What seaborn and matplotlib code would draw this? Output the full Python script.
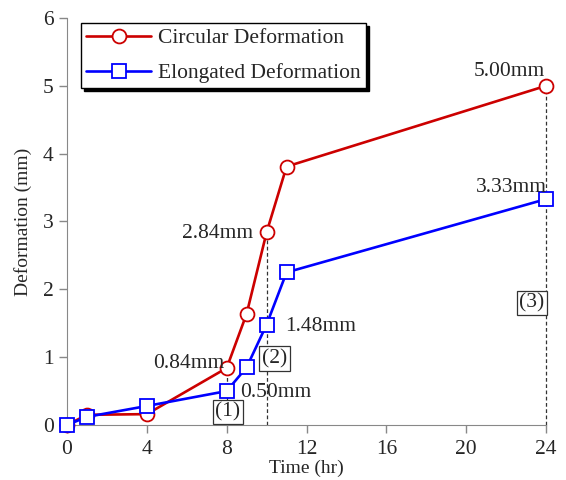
import matplotlib
matplotlib.use("Agg")
import matplotlib.pyplot as plt
from matplotlib.lines import Line2D
import seaborn as sns
import pandas as pd

time_hr = [0, 1, 4, 8, 9, 10, 11, 24]
circular = [0.0, 0.15, 0.16, 0.84, 1.64, 2.84, 3.81, 5.00]
elongated = [0.0, 0.12, 0.28, 0.50, 0.85, 1.48, 2.25, 3.33]
x_ticks = [0, 4, 8, 12, 16, 20, 24]
y_ticks = [0, 1, 2, 3, 4, 5, 6]
series = ["Circular Deformation", "Elongated Deformation"]
colors = {"Circular Deformation": "#cc0000", "Elongated Deformation": "#0000ff"}
markers = {"Circular Deformation": "o", "Elongated Deformation": "s"}

sns.set_style("ticks")
plt.rcParams['font.family'] = ['Liberation Serif', 'DejaVu Serif']

df = pd.DataFrame({"t": time_hr * 2,
                   "d": circular + elongated,
                   "s": [series[0]] * len(time_hr) + [series[1]] * len(time_hr)})

fig = plt.figure(figsize=(5.66, 4.8), dpi=100)
ax = fig.add_axes([0.1184, 0.1146, 0.8463, 0.8479])

sns.lineplot(data=df, x="t", y="d", hue="s", style="s",
             palette=colors, markers=markers,
             dashes=False, markersize=10, markerfacecolor="white", markeredgewidth=1.3,
             linewidth=1.9, ax=ax, clip_on=False, zorder=3, legend=False)
for ln, s in zip(ax.lines, series):
    ln.set_markeredgecolor(colors[s])
    ln.set_markerfacecolor("white")

# dashed guide lines
for xi, yi in [(8, circular[3]), (10, circular[5]), (24, circular[7])]:
    ax.plot([xi, xi], [0, yi], ls=(0, (3, 2)), color="#333333", lw=0.9, zorder=1, clip_on=False)

fs = 15.5
ax.text(7.9, 0.90, "0.84mm", fontsize=fs, ha="right", va="center")
ax.text(8.65, 0.48, "0.50mm", fontsize=fs, ha="left", va="center")
ax.text(9.3, 2.83, "2.84mm", fontsize=fs, ha="right", va="center")
ax.text(10.95, 1.45, "1.48mm", fontsize=fs, ha="left", va="center")
ax.text(23.95, 5.21, "5.00mm", fontsize=fs, ha="right", va="center")
ax.text(24.05, 3.50, "3.33mm", fontsize=fs, ha="right", va="center")

box = dict(boxstyle="square,pad=0.12", fc="white", ec="#333333", lw=0.9)
ax.text(8.05, 0.19, "(1)", fontsize=fs, ha="center", va="center", bbox=box, zorder=4)
ax.text(10.4, 0.98, "(2)", fontsize=fs, ha="center", va="center", bbox=box, zorder=4)
ax.text(23.3, 1.80, "(3)", fontsize=fs, ha="center", va="center", bbox=box, zorder=4)

ax.set_xlim(0, 24)
ax.set_ylim(0, 6)
ax.set_xticks(x_ticks)
ax.set_yticks(y_ticks)
ax.tick_params(axis="both", labelsize=15.5, color="#888888", length=6, width=1)
ax.tick_params(axis="x", pad=5)
ax.set_xlabel("Time (hr)", fontsize=14, labelpad=0)
ax.set_ylabel("Deformation (mm)", fontsize=14, labelpad=8)
for sp in ["top", "right"]:
    ax.spines[sp].set_visible(False)
for sp in ["left", "bottom"]:
    ax.spines[sp].set_color("#888888")

handles = [Line2D([], [], color=colors[s], marker=markers[s], markersize=10,
                  markerfacecolor="white", markeredgecolor=colors[s], markeredgewidth=1.3, lw=1.9)
           for s in series]
leg = ax.legend(handles, series, loc="upper left", bbox_to_anchor=(0.029, 0.988), fontsize=15.5,
                frameon=True, fancybox=False, shadow={"color": "black", "alpha": 1.0},
                handlelength=3.0, borderaxespad=0,
                borderpad=0.25, labelspacing=0.68, handletextpad=0.35)
leg.get_frame().set_edgecolor("black")
leg.get_frame().set_linewidth(1.0)

fig.savefig("out.png", dpi=100)
